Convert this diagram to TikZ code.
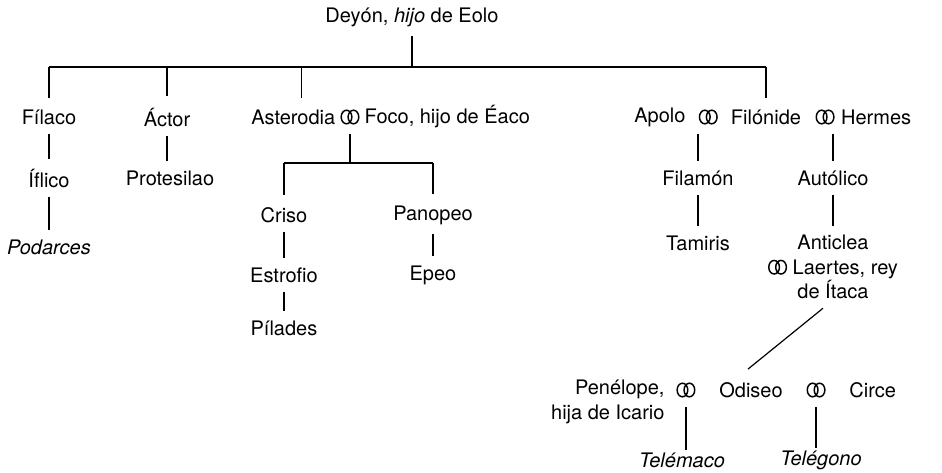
\documentclass[tikz,border=0pt]{standalone}
\usepackage{fontspec}
\setmainfont{TeX Gyre Heros}
\usetikzlibrary{positioning,calc}
\newcommand{\wed}{\raisebox{5.2pt}{\tikz[baseline=(current bounding box.center)]{%
  \draw[line width=1.1pt] (0pt,0pt) ellipse [x radius=4pt,y radius=5.1pt]
    (5.2pt,0pt) ellipse [x radius=4pt,y radius=5.1pt];}}}

\begin{document}
\begin{tikzpicture}[x=0.75pt,y=0.75pt,yscale=-1,xscale=1,
  every node/.style={inner sep=0.75pt,font=\fontsize{15}{18.4}\selectfont},
  link/.style={line width=0.9pt,shorten <=6pt,shorten >=6pt},
  drop/.style={line width=0.9pt,shorten >=8pt}]
\useasboundingbox (0,0) rectangle (942,472);

% Text Node
\node (deyon) at (412,17) {Deyón, \textit{hijo} de Eolo};
% Text Node
\node (filaco) at (49,117) {Fílaco};
\node (iflico) at (49,178) {Íflico};
\node (podarces) at (49,247) {\textit{Podarces}};
% Text Node
\node (actor) at (167,117) {Áctor};
\node (protesilao) at (170,178) {Protesilao};
% Text Node
\node[anchor=west] (asterodia) at (250,117) {Asterodia};
\node[right=2pt of asterodia] (m1) {\wed};
\node[right=2pt of m1] (foco) {Foco, hijo de Éaco};
\node (criso) at (284,215) {Criso};
\node (estrofio) at (284,275) {Estrofio};
\node (pilades) at (284,328) {Pílades};
\node (panopeo) at (433,215) {Panopeo};
\node (epeo) at (433,275) {Epeo};
% Text Node
\node (filonide) at (766,117) {Filónide};
\node[left=8pt of filonide] (m2) {\wed};
\node[left=8pt of m2] (apolo) {Apolo};
\node[right=9pt of filonide] (m3) {\wed};
\node[right=3pt of m3] (hermes) {Hermes};
\node (filamon) at (698,178) {Filamón};
\node (tamiris) at (698,243) {Tamiris};
\node (autolico) at (833,178) {Autólico};
\node[align=center] (anticlea) at (833,267) {Anticlea\\\wed{} Laertes, rey\\de Ítaca};
% Text Node
\node (odiseo) at (751,390) {Odiseo};
\node[left=16pt of odiseo] (m4) {\wed};
\node[left=7pt of m4,yshift=-9pt,align=right] (penelope) {Penélope,\\hija de Icario};
\node[right=16pt of odiseo] (m5) {\wed};
\node[right=16pt of m5] (circe) {Circe};
\node (telemaco) at (682,460) {\textit{Telémaco}};
\node (telegono) at (821,460) {\textit{Telégono}};

\coordinate (top) at (412,67);
\coordinate (sub) at (358,163);

%Straight Lines
\draw[link,shorten >=0pt] (deyon) -- (deyon |- top);
\draw[line width=0.9pt] (filaco |- top) -- (filonide |- top);
\foreach \n in {filaco,actor,filonide}
  \draw[drop] (\n |- top) -- (\n);
\draw[drop] ([xshift=6pt]asterodia |- top) -- ([xshift=6pt]asterodia.north);
%Straight Lines
\draw[link] (filaco) -- (iflico);
\draw[link] (iflico) -- (podarces);
\draw[link] (actor) -- (actor |- protesilao.north);
%Straight Lines
\draw[link,shorten >=0pt] (m1) -- (m1 |- sub);
\draw[line width=0.9pt] (criso |- sub) -- (panopeo |- sub);
\draw[drop] (criso |- sub) -- (criso);
\draw[drop] (panopeo |- sub) -- (panopeo);
\draw[link] (criso) -- (estrofio);
\draw[link] (estrofio) -- (pilades);
\draw[link] (panopeo) -- (epeo);
%Straight Lines
\draw[link] (filamon |- m2.south) -- (filamon);
\draw[link] (filamon) -- (tamiris);
\draw[link] (autolico |- m3.south) -- (autolico);
\draw[link] (autolico) -- (anticlea);
\draw[line width=0.9pt] ($(anticlea.south)+(-10,8)$) -- ($(odiseo.north)+(-3,-12)$);
%Straight Lines
\draw[link,shorten >=1pt] (m4) -- (m4 |- telemaco.north);
\draw[link,shorten >=1pt] (m5) -- (m5 |- telegono.north);

\end{tikzpicture}
\end{document}
